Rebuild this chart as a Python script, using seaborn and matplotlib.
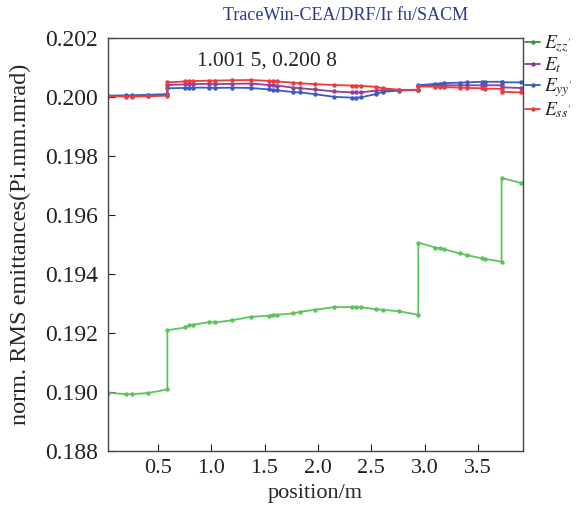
import numpy as np
import pandas as pd
import matplotlib
matplotlib.use("Agg")
import matplotlib.pyplot as plt
import seaborn as sns

# positions of the lattice points (m), duplicated where the curves jump
position = [0.03, 0.20, 0.26, 0.41, 0.59, 0.59, 0.76, 0.79, 0.83, 0.98, 1.04, 1.20,
            1.37, 1.54, 1.58, 1.62, 1.77, 1.83, 1.97, 2.15, 2.32, 2.36, 2.40, 2.54,
            2.61, 2.76, 2.94, 2.94, 3.10, 3.145, 3.18, 3.33, 3.40, 3.54, 3.56, 3.72,
            3.72, 3.90]

e_zz = [0.18998, 0.18993, 0.18993, 0.18997, 0.19009, 0.19210, 0.19219, 0.19226, 0.19228,
        0.19237, 0.19236, 0.19244, 0.19255, 0.19259, 0.19262, 0.19262, 0.19267, 0.19272,
        0.19279, 0.19288, 0.19288, 0.19288, 0.19288, 0.19281, 0.19279, 0.19274, 0.19262,
        0.19507, 0.19490, 0.19487, 0.19484, 0.19470, 0.19464, 0.19453, 0.19452, 0.19442,
        0.19726, 0.19709]

e_t = [0.20004, 0.20004, 0.20004, 0.20005, 0.20007, 0.20041, 0.20043, 0.20043, 0.20044,
       0.20045, 0.20044, 0.20045, 0.20046, 0.20041, 0.20040, 0.20039, 0.20032, 0.20030,
       0.20026, 0.20019, 0.20016, 0.20016, 0.20016, 0.20022, 0.20024, 0.20024, 0.20025,
       0.20038, 0.20040, 0.20040, 0.20040, 0.20040, 0.20040, 0.20040, 0.20040, 0.20040,
       0.20033, 0.20031]

e_yy = [0.20005, 0.20006, 0.20006, 0.20008, 0.20010, 0.20030, 0.20031, 0.20031, 0.20032,
        0.20032, 0.20031, 0.20032, 0.20031, 0.20026, 0.20024, 0.20023, 0.20017, 0.20016,
        0.20010, 0.20001, 0.19998, 0.19998, 0.19999, 0.20010, 0.20018, 0.20022, 0.20025,
        0.20040, 0.20045, 0.20046, 0.20047, 0.20049, 0.20050, 0.20052, 0.20052, 0.20052,
        0.20050, 0.20050]

e_ss = [0.20003, 0.20002, 0.20002, 0.20003, 0.20005, 0.20050, 0.20053, 0.20054, 0.20054,
        0.20056, 0.20056, 0.20057, 0.20058, 0.20055, 0.20054, 0.20053, 0.20049, 0.20047,
        0.20044, 0.20041, 0.20039, 0.20039, 0.20038, 0.20035, 0.20030, 0.20025, 0.20024,
        0.20036, 0.20035, 0.20035, 0.20034, 0.20032, 0.20031, 0.20030, 0.20029, 0.20028,
        0.20018, 0.20016]

y_ticks = [0.188, 0.190, 0.192, 0.194, 0.196, 0.198, 0.200, 0.202]
x_ticks = [0.5, 1.0, 1.5, 2.0, 2.5, 3.0, 3.5]

sns.set_style("ticks")
plt.rcParams['font.family'] = ['Liberation Serif', 'DejaVu Serif']
plt.rcParams['mathtext.fontset'] = 'stix'

fig = plt.figure(figsize=(5.83, 5.08), dpi=100)
ax = fig.add_axes([0.185, 0.112, 0.712, 0.813])

series = [(r'$E_{zz^{\prime}}$', e_zz, '#5cc45c'),
          (r'$E_t$', e_t, '#9040a0'),
          (r'$E_{yy^{\prime}}$', e_yy, '#3a5cc0'),
          (r'$E_{ss^{\prime}}$', e_ss, '#f03a3a')]

for name, vals, col in series:
    sns.lineplot(x=position, y=vals, ax=ax, estimator=None, sort=False,
                 color=col, lw=1.3, marker='o', markersize=3.2,
                 markeredgewidth=0, label=name)

ax.set_xlim(0.033, 3.92)
ax.set_ylim(0.188, 0.202)
ax.set_xticks(x_ticks)
ax.set_yticks(y_ticks)
ax.set_yticklabels(['%.3f' % v for v in y_ticks])
ax.tick_params(direction='in', length=5, colors='#222222', top=False, right=False)
ax.tick_params(axis='y', labelsize=17, pad=7)
ax.tick_params(axis='x', labelsize=16, pad=6)
for s in ax.spines.values():
    s.set_color('#444444')
    s.set_linewidth(1.0)

ax.set_xlabel('position/m', fontsize=16, labelpad=4)
ax.set_ylabel('norm. RMS emittances(Pi.mm.mrad)', fontsize=17.5, labelpad=10)

ax.text(1.52, 0.20122, '1.001 5, 0.200 8', fontsize=15.5, ha='center', va='center')
fig.text(0.803, 0.97, 'TraceWin-CEA/DRF/Ir fu/SACM', fontsize=13,
         color='#2e3a8c', ha='right', va='center')

leg = ax.legend(loc='upper left', bbox_to_anchor=(0.978, 1.04), frameon=False,
                fontsize=14, handlelength=0.75, handletextpad=0.2,
                labelspacing=0.05, borderaxespad=0.2)
leg_cols = ['#3a8f3a', '#8b3a9c', '#3a5cc0', '#f03a3a']
for h, c in zip(leg.legend_handles, leg_cols):
    h.set_color(c)

fig.savefig('out.png', dpi=100)
